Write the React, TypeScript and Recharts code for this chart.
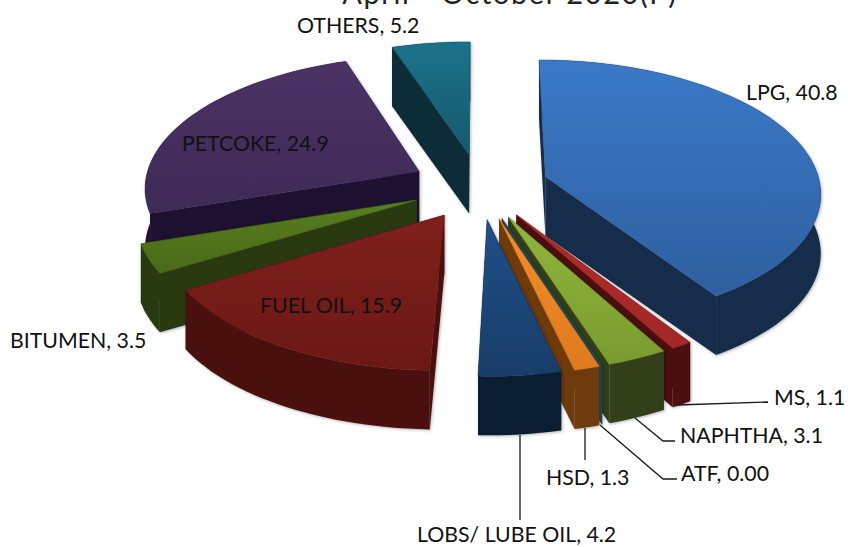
import { Pie, PieChart } from "recharts";

const categories = ["LPG", "MS", "NAPHTHA", "ATF", "HSD", "LOBS/ LUBE OIL", "FUEL OIL", "BITUMEN", "PETCOKE", "OTHERS"];
const shares = [40.8, 1.1, 3.1, 0, 1.3, 4.2, 15.9, 3.5, 24.9, 5.2];
const valueLabels = ["40.8", "1.1", "3.1", "0.00", "1.3", "4.2", "15.9", "3.5", "24.9", "5.2"];

const chartData = categories.map((name, i) => ({ name, value: shares[i], text: valueLabels[i] }));

// top face light, top face dark, side wall
const palette: Record<string, string[]> = {
  LPG: ["#3b79c8", "#2e5f9f", "#152c4b"],
  MS: ["#b32b2b", "#a12727", "#4b0f0f"],
  NAPHTHA: ["#90b63a", "#7a9b30", "#333f18"],
  ATF: ["#2a6276", "#245566", "#1d4b5c"],
  HSD: ["#f28e29", "#df7a1e", "#6f3b0c"],
  "LOBS/ LUBE OIL": ["#1f5088", "#183d69", "#0a1d33"],
  "FUEL OIL": ["#7f201c", "#6b1815", "#4a100e"],
  BITUMEN: ["#587d1f", "#4a6a18", "#2a3a10"],
  PETCOKE: ["#4c3265", "#3e2a56", "#1d1030"],
  OTHERS: ["#1b728a", "#15596d", "#0c2d38"],
};

// painted back to front, the slices overlap
const drawOrder = ["OTHERS", "PETCOKE", "BITUMEN", "FUEL OIL", "LPG", "MS", "NAPHTHA", "ATF", "HSD", "LOBS/ LUBE OIL"];

const labelSpots: Record<string, number[]> = {
  LPG: [746, 100],
  MS: [774, 405],
  NAPHTHA: [680, 443],
  ATF: [681, 481],
  HSD: [546, 485],
  "LOBS/ LUBE OIL": [417, 542],
  "FUEL OIL": [260, 313],
  BITUMEN: [10, 348],
  PETCOKE: [182, 151],
  OTHERS: [297, 33],
};

const leaders: Record<string, string> = {
  MS: "677,405 768,402",
  NAPHTHA: "635,418 663,441 675,441",
  ATF: "600,425 663,479 677,479",
  HSD: "585,428 585,460",
  "LOBS/ LUBE OIL": "520,435 520,520",
};

const TILT = 0.478;
const PERSPECTIVE = 0.11;
const EXPLODE = 0.25;
const DEPTH = 59;
const FONT = "Lato, sans-serif";

function Slice(props: any) {
  const { cx, cy, outerRadius, startAngle, endAngle, name } = props;
  const colors = palette[name];
  const rad = (deg: number) => (deg * Math.PI) / 180;
  const mid = rad((startAngle + endAngle) / 2);
  const ex = Math.cos(mid) * EXPLODE;
  const ey = -Math.sin(mid) * EXPLODE;

  const project = (u: number, v: number): [number, number] => {
    const s = 1 / (1 - PERSPECTIVE * v);
    return [cx + outerRadius * u * s, cy + outerRadius * TILT * v * s];
  };
  const rimPoint = (deg: number) => project(ex + Math.cos(rad(deg)), ey - Math.sin(rad(deg)));

  const apex = project(ex, ey);
  const rim: [number, number][] = [];
  const steps = Math.max(1, Math.ceil(Math.abs(startAngle - endAngle) / 2));
  for (let i = 0; i <= steps; i++) {
    rim.push(rimPoint(startAngle + ((endAngle - startAngle) * i) / steps));
  }

  const pts = (list: [number, number][]) => list.map((p) => `${p[0].toFixed(1)},${p[1].toFixed(1)}`).join(" ");
  const down = (p: [number, number]): [number, number] => [p[0], p[1] + DEPTH];
  const gradId = `top-${name.replace(/[^A-Z]/g, "")}`;
  const first = rim[0];
  const last = rim[rim.length - 1];

  return (
    <g style={{ filter: "drop-shadow(1px 1px 1.5px rgba(0,0,0,0.3))" }}>
      <defs>
        <linearGradient id={gradId} x1="0" x2="0" y1="0" y2="1">
          <stop offset="0%" stopColor={colors[0]} />
          <stop offset="100%" stopColor={colors[1]} />
        </linearGradient>
      </defs>
      <polygon points={pts([apex, first, down(first), down(apex)])} fill={colors[2]} />
      <polygon points={pts([apex, last, down(last), down(apex)])} fill={colors[2]} />
      <polygon points={pts([...rim, ...rim.map(down).reverse()])} fill={colors[2]} />
      {endAngle !== startAngle && (
        <polygon points={pts([apex, ...rim])} fill={`url(#${gradId})`} stroke={colors[1]} strokeWidth={0.5} />
      )}
    </g>
  );
}

function SliceLabel(props: any) {
  const { name, text } = props.payload ?? props;
  const spot = labelSpots[name];
  return (
    <g>
      {leaders[name] && <polyline points={leaders[name]} fill="none" stroke="#1a1a1a" strokeWidth={1.3} />}
      <text x={spot[0]} y={spot[1]} fontFamily={FONT} fontSize={21.3} fill="#111111">
        {`${name}, ${text}`}
      </text>
    </g>
  );
}

export default function App() {
  return (
    <div style={{ position: "absolute", left: 0, top: 0, width: 848, height: 547, background: "#ffffff" }}>
      <PieChart width={848} height={547} margin={{ top: 0, right: 0, bottom: 0, left: 0 }}>
        <text x={510} y={4} textAnchor="middle" fontFamily={FONT} fontSize={29} letterSpacing={1.6} fill="#222222">
          April - October 2020(P)
        </text>
        {drawOrder.map((layer) => (
          <Pie
            key={layer}
            data={chartData}
            dataKey="value"
            nameKey="name"
            cx={480}
            cy={186}
            outerRadius={275}
            startAngle={90}
            endAngle={-270}
            stroke="none"
            isAnimationActive={false}
            shape={(p: any) => (p.name === layer ? <Slice {...p} /> : <g />)}
          />
        ))}
        <Pie
          data={chartData}
          dataKey="value"
          nameKey="name"
          cx={480}
          cy={186}
          outerRadius={275}
          startAngle={90}
          endAngle={-270}
          fill="none"
          stroke="none"
          isAnimationActive={false}
          shape={() => <g />}
          labelLine={false}
          label={(p: any) => <SliceLabel {...p} />}
        />
      </PieChart>
    </div>
  );
}
